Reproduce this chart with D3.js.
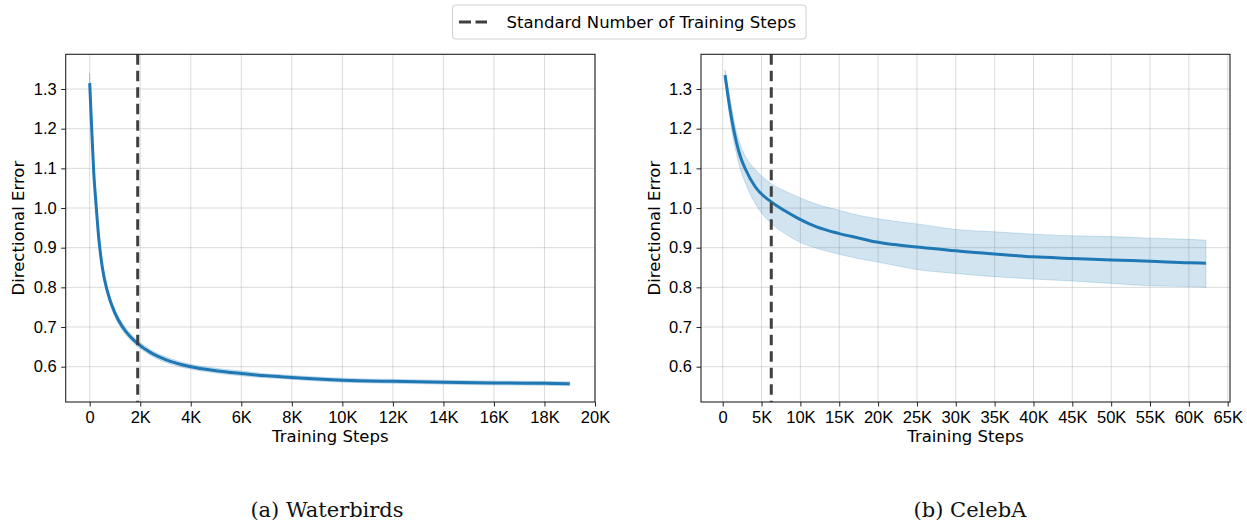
<!DOCTYPE html>
<html lang="en">
<head>
    <meta charset="UTF-8">
    <title>Directional Error vs Training Steps</title>
    <script src="https://d3js.org/d3.v7.min.js"></script>
    <style>
        body { margin: 0; background: #fff; }
        svg { font-family: "DejaVu Sans", sans-serif; }
        .tick text { font-size: 16.5px; fill: #000; }
        .axis-label { font-size: 16.5px; fill: #000; }
        .caption { font-family: "DejaVu Serif", serif; font-size: 21px; fill: #111; }
        .grid line { stroke: #b0b0b0; stroke-opacity: 0.45; stroke-width: 1px; }
    </style>
</head>
<body>
    <div id="chart"></div>

    <script>
        // Waterbirds
        const wbSteps = [0, 100, 160, 250, 350, 500, 700, 1000, 1300, 1600, 1900, 2400, 3000, 4000, 5000, 6000, 7000, 8000, 9000, 10000, 12000, 14000, 16000, 18000, 19000];
        const wbMean  = [1.315, 1.17, 1.09, 1.01, 0.93, 0.85, 0.79, 0.735, 0.70, 0.676, 0.658, 0.636, 0.618, 0.600, 0.590, 0.583, 0.577, 0.573, 0.569, 0.566, 0.563, 0.561, 0.559, 0.558, 0.557];
        const wbUpper = [1.340, 1.19, 1.105, 1.022, 0.941, 0.860, 0.799, 0.744, 0.709, 0.684, 0.666, 0.643, 0.625, 0.606, 0.596, 0.589, 0.582, 0.578, 0.574, 0.571, 0.568, 0.566, 0.564, 0.563, 0.562];
        const wbLower = [1.290, 1.15, 1.075, 0.998, 0.919, 0.840, 0.781, 0.726, 0.691, 0.668, 0.650, 0.629, 0.611, 0.594, 0.584, 0.577, 0.572, 0.568, 0.564, 0.561, 0.558, 0.556, 0.554, 0.553, 0.552];
        const wbStandard = 1900;
        const wbTicks = d3.range(0, 20001, 2000);

        // CelebA
        const caSteps = [300, 1000, 1800, 2300, 2900, 4200, 6200, 8000, 9700, 12000, 14900, 17600, 19600, 22000, 25000, 30000, 35000, 40000, 45000, 50000, 55000, 60000, 62200];
        const caMean  = [1.335, 1.242, 1.163, 1.128, 1.099, 1.053, 1.016, 0.993, 0.974, 0.953, 0.936, 0.924, 0.915, 0.908, 0.902, 0.892, 0.884, 0.877, 0.873, 0.869, 0.866, 0.862, 0.861];
        const caUpper = [1.348, 1.270, 1.190, 1.158, 1.131, 1.097, 1.062, 1.043, 1.028, 1.010, 0.995, 0.981, 0.974, 0.967, 0.960, 0.946, 0.940, 0.934, 0.930, 0.928, 0.924, 0.921, 0.919];
        const caLower = [1.322, 1.216, 1.134, 1.096, 1.064, 1.011, 0.962, 0.936, 0.916, 0.899, 0.884, 0.872, 0.865, 0.856, 0.845, 0.835, 0.827, 0.821, 0.816, 0.810, 0.804, 0.802, 0.800];
        const caStandard = 6250;
        const caTicks = d3.range(0, 65001, 5000);

        const yTicks = [0.6, 0.7, 0.8, 0.9, 1.0, 1.1, 1.2, 1.3];
        const legendLabel = "Standard Number of Training Steps";
        const captions = ["(a) Waterbirds", "(b) CelebA"];

        const width = 1247, height = 525;
        const plotTop = 54.3, plotBottom = 402;
        const blue = "#1f77b4";

        const svg = d3.select("#chart").append("svg")
            .attr("width", width)
            .attr("height", height);

        const fmtK = d => d === 0 ? "0" : (d / 1000) + "K";

        const drawPanel = (cfg) => {
            const x = d3.scaleLinear().domain(cfg.xDomain).range([cfg.left, cfg.right]);
            const y = d3.scaleLinear().domain([0.511, 1.3875]).range([plotBottom, plotTop]);
            const g = svg.append("g");

            // grid
            g.append("g").attr("class", "grid")
                .selectAll("line").data(cfg.xTicks).enter().append("line")
                .attr("x1", d => x(d)).attr("x2", d => x(d))
                .attr("y1", plotTop).attr("y2", plotBottom);
            g.append("g").attr("class", "grid")
                .selectAll("line").data(yTicks).enter().append("line")
                .attr("x1", cfg.left).attr("x2", cfg.right)
                .attr("y1", d => y(d)).attr("y2", d => y(d));

            const rows = cfg.steps.map((s, i) => ({ s, m: cfg.mean[i], lo: cfg.lower[i], hi: cfg.upper[i] }));

            const area = d3.area()
                .x(d => x(d.s)).y0(d => y(d.lo)).y1(d => y(d.hi))
                .curve(d3.curveMonotoneX);
            g.append("path").datum(rows)
                .attr("d", area)
                .attr("fill", blue).attr("fill-opacity", 0.2)
                .attr("stroke", blue).attr("stroke-opacity", 0.2).attr("stroke-width", 1);

            const line = d3.line().x(d => x(d.s)).y(d => y(d.m)).curve(d3.curveMonotoneX);
            g.append("path").datum(rows)
                .attr("d", line)
                .attr("fill", "none").attr("stroke", blue).attr("stroke-width", 3);

            // standard number of steps
            g.append("line")
                .attr("x1", x(cfg.standard)).attr("x2", x(cfg.standard))
                .attr("y1", plotTop).attr("y2", plotBottom)
                .attr("stroke", "#404040").attr("stroke-width", 3)
                .attr("stroke-dasharray", "10.5,6");

            // frame
            g.append("rect")
                .attr("x", cfg.left).attr("y", plotTop)
                .attr("width", cfg.right - cfg.left).attr("height", plotBottom - plotTop)
                .attr("fill", "none").attr("stroke", "#222").attr("stroke-width", 1.1);

            const xAxis = d3.axisBottom(x).tickValues(cfg.xTicks).tickFormat(fmtK)
                .tickSize(4.5).tickPadding(4.5);
            g.append("g").attr("transform", `translate(0,${plotBottom})`).call(xAxis)
                .call(a => a.select(".domain").remove())
                .call(a => a.selectAll(".tick line").attr("stroke", "#222"));

            const yAxis = d3.axisLeft(y).tickValues(yTicks).tickFormat(d3.format(".1f"))
                .tickSize(4.5).tickPadding(4.5);
            g.append("g").attr("transform", `translate(${cfg.left},0)`).call(yAxis)
                .call(a => a.select(".domain").remove())
                .call(a => a.selectAll(".tick line").attr("stroke", "#222"));

            g.append("text").attr("class", "axis-label")
                .attr("x", (cfg.left + cfg.right) / 2).attr("y", 442)
                .attr("text-anchor", "middle")
                .text("Training Steps");

            g.append("text").attr("class", "axis-label")
                .attr("transform", `translate(${cfg.yLabelX},${(plotTop + plotBottom) / 2}) rotate(-90)`)
                .attr("text-anchor", "middle").attr("dy", "0.35em")
                .text("Directional Error");

            g.append("text").attr("class", "caption")
                .attr("x", cfg.captionX).attr("y", 517)
                .attr("text-anchor", "middle")
                .text(cfg.caption);
        };

        drawPanel({
            left: 65.7, right: 595, xDomain: [-950, 20000], xTicks: wbTicks,
            steps: wbSteps, mean: wbMean, upper: wbUpper, lower: wbLower,
            standard: wbStandard, yLabelX: 18.5, captionX: 327, caption: captions[0]
        });
        drawPanel({
            left: 701, right: 1230, xDomain: [-2795, 65295], xTicks: caTicks,
            steps: caSteps, mean: caMean, upper: caUpper, lower: caLower,
            standard: caStandard, yLabelX: 654, captionX: 970, caption: captions[1]
        });

        // legend
        const lg = svg.append("g");
        lg.append("rect")
            .attr("x", 452.5).attr("y", 5).attr("width", 353.5).attr("height", 34)
            .attr("rx", 3).attr("fill", "#fff").attr("stroke", "#d0d0d0").attr("stroke-width", 1);
        lg.append("line")
            .attr("x1", 459).attr("x2", 487).attr("y1", 22).attr("y2", 22)
            .attr("stroke", "#404040").attr("stroke-width", 3)
            .attr("stroke-dasharray", "12,4.5");
        lg.append("text").attr("class", "axis-label")
            .attr("x", 506.5).attr("y", 22).attr("dy", "0.35em")
            .text(legendLabel);
    </script>
</body>
</html>
